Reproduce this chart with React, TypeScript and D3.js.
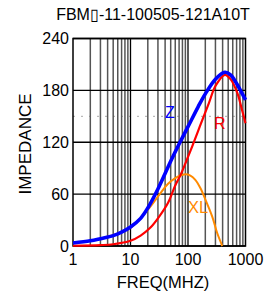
import React from "react";
import * as d3 from "d3";

const title = "FBM\u25AF-11-100505-121A10T";
const yTicks = [0, 60, 120, 180, 240];
const yDashed = [150];
const xTicks = [1, 10, 100, 1000];

const zFreq = [1, 2, 3, 5, 7, 10, 15, 20, 30, 50, 70, 100, 150, 200, 300, 437, 550, 700, 850, 1000];
const zVal = [3.5, 6, 8.5, 12, 16, 22, 32, 44, 66, 98, 118, 138, 161, 176, 193, 201, 198, 188, 178, 169];

const rFreq = [1, 3, 5, 10, 15, 22, 30, 45, 60, 74, 100, 118, 160, 230, 300, 437, 550, 720, 850, 1000];
const rVal = [0.3, 1, 2, 6, 12, 21, 32, 50, 70, 82, 103, 115, 138, 165, 185, 198, 193, 177, 160, 142];

const xlFreq = [1, 3, 10, 20, 33, 45, 60, 70, 90, 110, 134, 164, 200, 264, 322, 395];
const xlVal = [3.3, 8.5, 21, 42, 61, 72, 78.5, 81, 83, 81.5, 76.5, 67, 54, 34, 15, 0];

const W = 274;
const H = 295;
const L = 73, R = 245.5, T = 38.5, B = 246;
const FONT = "'Liberation Sans', Arial, sans-serif";

export default function App() {
  const x = d3.scaleLog().domain([1, 1000]).range([L, R]);
  const y = d3.scaleLinear().domain([0, 240]).range([B, T]);

  const minor: number[] = [];
  [1, 10, 100].forEach((d) => {
    for (let k = 2; k <= 9; k++) minor.push(d * k);
  });

  const mk = (fs: number[], vs: number[]) =>
    d3
      .line<number>()
      .x((_, i) => x(fs[i]))
      .y((v) => y(v))
      .curve(d3.curveCatmullRom.alpha(0.5))(vs) || "";

  return (
    <svg
      width={W}
      height={H}
      style={{ position: "absolute", left: 0, top: 0, background: "#fff" }}
    >
      <text x={153} y={19.5} fontSize={16} fontFamily={FONT} textAnchor="middle" fill="#000">
        {title}
      </text>
      {yDashed.map((v) => (
        <line key={"yd" + v} x1={L} x2={R} y1={y(v)} y2={y(v)} stroke="#aaa" strokeWidth={1} strokeDasharray="2,6" />
      ))}
      {minor.map((f) => (
        <line key={"m" + f} x1={x(f)} x2={x(f)} y1={T} y2={B} stroke="#555" strokeWidth={1.5} />
      ))}
      {[10, 100].map((f) => (
        <line key={"d" + f} x1={x(f)} x2={x(f)} y1={T} y2={B} stroke="#000" strokeWidth={1.3} />
      ))}
      {yTicks.map((v) => (
        <line key={"y" + v} x1={L} x2={R} y1={y(v)} y2={y(v)} stroke="#000" strokeWidth={1.3} />
      ))}
      <rect x={L} y={T} width={R - L} height={B - T} fill="none" stroke="#000" strokeWidth={1.5} />
      <path d={mk(xlFreq, xlVal)} fill="none" stroke="#ff8a00" strokeWidth={2} />
      <path d={mk(rFreq, rVal)} fill="none" stroke="#ff0000" strokeWidth={2.2} />
      <path d={mk(zFreq, zVal)} fill="none" stroke="#0000ff" strokeWidth={3.6} />
      {yTicks.map((v) => (
        <text key={"yl" + v} x={69} y={y(v)} dy="0.36em" fontSize={16} fontFamily={FONT} textAnchor="end" fill="#000">
          {v}
        </text>
      ))}
      {xTicks.map((f) => (
        <text key={"xl" + f} x={x(f)} y={265} fontSize={16} fontFamily={FONT} textAnchor="middle" fill="#000">
          {f}
        </text>
      ))}
      <text x={163} y={288} fontSize={16.5} fontFamily={FONT} textAnchor="middle" fill="#000">
        FREQ(MHZ)
      </text>
      <text
        transform={`translate(31,144) rotate(-90)`}
        fontSize={17}
        fontFamily={FONT}
        textAnchor="middle"
        fill="#000"
      >
        IMPEDANCE
      </text>
      <text x={165} y={118} fontSize={16} fontFamily={FONT} fill="#0000ff">Z</text>
      <text x={214} y={129} fontSize={16} fontFamily={FONT} fill="#ff0000">R</text>
      <text x={188} y={213} fontSize={16.5} fontFamily={FONT} fill="#ff8a00">XL</text>
    </svg>
  );
}
